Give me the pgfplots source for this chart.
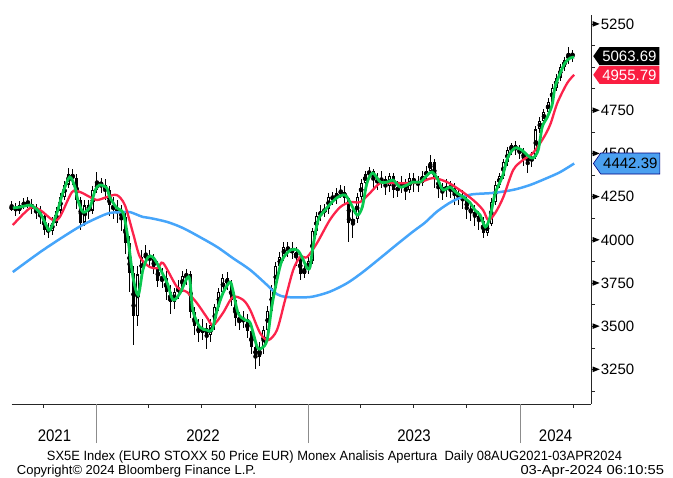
\documentclass[border=0pt]{standalone}
\usepackage{fontspec}
\setmainfont{Liberation Sans}
\usepackage{graphicx}
\usepackage{pgfplots}
\usepackage{pgfplotstable}
\pgfplotsset{compat=1.18}
\usetikzlibrary{shapes.symbols}
\definecolor{bbgreen}{RGB}{10,200,80}
\definecolor{bbred}{RGB}{252,35,75}
\definecolor{bbblue}{RGB}{70,165,250}
\definecolor{boxblue}{RGB}{75,160,240}
\definecolor{boxred}{RGB}{250,30,65}
\newcommand{\fs}[1]{\fontsize{#1}{#1}\selectfont}

\pgfplotstableread[row sep=\\]{
x o h l c\\
0 4180 4225 4165 4190\\ 7 4190 4215 4140 4170\\ 14 4170 4225 4150 4200\\ 21 4200 4240 4180 4215\\
28 4215 4250 4185 4210\\ 35 4210 4235 4150 4180\\ 42 4180 4210 4120 4175\\ 49 4175 4195 4090 4140\\
56 4140 4160 4030 4060\\ 63 4060 4100 4010 4050\\ 70 4050 4130 4030 4100\\ 77 4100 4190 4080 4170\\
84 4170 4270 4150 4250\\ 91 4250 4340 4230 4320\\ 98 4320 4415 4300 4380\\ 105 4380 4410 4320 4360\\
112 4360 4380 4180 4230\\ 119 4230 4250 4060 4100\\ 126 4100 4230 4080 4200\\ 133 4200 4230 4120 4170\\
140 4170 4310 4150 4290\\ 147 4290 4395 4270 4330\\ 154 4330 4360 4270 4320\\ 161 4320 4350 4230 4290\\
168 4290 4310 4140 4200\\ 175 4200 4250 4120 4180\\ 182 4180 4230 4100 4160\\ 189 4160 4200 4050 4130\\
196 4130 4170 3920 3980\\ 203 3980 4020 3700 3810\\ 210 3810 3850 3390 3560\\ 217 3560 3850 3500 3800\\
224 3800 3940 3760 3900\\ 231 3900 3970 3860 3910\\ 238 3910 3940 3840 3890\\ 245 3890 3920 3800 3840\\
252 3840 3880 3730 3760\\ 259 3760 3840 3720 3780\\ 266 3780 3820 3650 3700\\ 273 3700 3740 3570 3640\\
280 3640 3720 3600 3700\\ 287 3700 3770 3660 3720\\ 294 3720 3820 3700 3790\\ 301 3790 3830 3740 3800\\
308 3800 3820 3550 3580\\ 315 3580 3610 3450 3500\\ 322 3500 3540 3410 3460\\ 329 3460 3540 3420 3490\\
336 3490 3520 3370 3450\\ 343 3450 3540 3410 3510\\ 350 3510 3630 3480 3610\\ 357 3610 3720 3590 3700\\
364 3700 3800 3680 3780\\ 371 3780 3815 3710 3740\\ 378 3740 3770 3620 3650\\ 385 3650 3670 3500 3550\\
392 3550 3580 3480 3530\\ 399 3530 3590 3490 3540\\ 406 3540 3570 3430 3470\\ 413 3470 3500 3340 3380\\
420 3380 3400 3250 3320\\ 427 3320 3410 3270 3380\\ 434 3380 3500 3340 3480\\ 441 3480 3620 3450 3590\\
448 3590 3740 3570 3720\\ 455 3720 3870 3700 3850\\ 462 3850 3930 3820 3900\\ 469 3900 3990 3880 3960\\
476 3960 3990 3900 3940\\ 483 3940 3990 3890 3930\\ 490 3930 3960 3850 3900\\ 497 3900 3930 3770 3800\\
504 3800 3870 3780 3830\\ 511 3830 3900 3800 3880\\ 518 3880 4070 3860 4050\\ 525 4050 4160 4030 4140\\
532 4140 4200 4110 4160\\ 539 4160 4210 4130 4180\\ 546 4180 4270 4150 4250\\ 553 4250 4280 4200 4240\\
560 4240 4300 4210 4270\\ 567 4270 4320 4240 4280\\ 574 4280 4310 4200 4240\\ 581 4240 4250 3990 4100\\
588 4100 4180 4010 4120\\ 595 4120 4270 4100 4250\\ 602 4250 4350 4230 4330\\ 609 4330 4400 4310 4380\\
616 4380 4420 4350 4400\\ 623 4400 4410 4300 4350\\ 630 4350 4390 4290 4330\\ 637 4330 4400 4300 4350\\
644 4350 4370 4260 4310\\ 651 4310 4390 4280 4370\\ 658 4370 4390 4240 4290\\ 665 4290 4340 4250 4300\\
672 4300 4370 4270 4330\\ 679 4330 4350 4230 4290\\ 686 4290 4390 4270 4360\\ 693 4360 4390 4280 4330\\
700 4330 4370 4280 4330\\ 707 4330 4400 4310 4370\\ 714 4370 4430 4340 4400\\ 721 4400 4490 4380 4450\\
728 4450 4470 4300 4350\\ 735 4350 4370 4240 4300\\ 742 4300 4330 4230 4290\\ 749 4290 4350 4250 4310\\
756 4310 4340 4240 4300\\ 763 4300 4330 4200 4260\\ 770 4260 4300 4200 4250\\ 777 4250 4290 4180 4230\\
784 4230 4250 4120 4180\\ 791 4180 4220 4110 4160\\ 798 4160 4200 4080 4140\\ 805 4140 4170 4060 4110\\
812 4110 4130 4010 4040\\ 819 4040 4110 4020 4090\\ 826 4090 4240 4080 4220\\ 833 4220 4340 4200 4320\\
840 4320 4390 4300 4370\\ 847 4370 4470 4350 4450\\ 854 4450 4540 4430 4520\\ 861 4520 4560 4490 4550\\
868 4550 4570 4490 4520\\ 875 4520 4550 4470 4510\\ 882 4510 4530 4430 4470\\ 889 4470 4500 4390 4460\\
896 4460 4510 4420 4480\\ 903 4480 4660 4470 4640\\ 910 4640 4710 4620 4690\\ 917 4690 4760 4670 4740\\
924 4740 4820 4720 4800\\ 931 4800 4900 4780 4880\\ 938 4880 4960 4860 4940\\ 945 4940 5020 4920 5000\\
952 5000 5060 4980 5040\\ 959 5040 5120 5020 5080\\ 966 5080 5100 5030 5064\\
}\candles

\pgfplotsset{chartframe/.style={
  at={(11.5bp,74bp)}, anchor=south west,
  width=579.5bp, height=388.6bp, scale only axis,
  xmin=-0.26, xmax=998, ymin=3050, ymax=5300, clip=false}}

\begin{document}
\begin{tikzpicture}
\path[use as bounding box] (0,0) rectangle (673bp,478bp);
\begin{axis}[
  chartframe,
  axis x line*=bottom, axis y line*=right,
  axis line style={line width=0.8bp, black!85},
  tick align=outside,
  major tick length=4bp, minor tick length=4bp,
  tick style={black!85, line width=0.7bp},
  xtick={54,236,327,419,601,692,784,967},
  xticklabels={},
  extra x ticks={146,511,876},
  extra x tick labels={},
  extra x tick style={major tick length=39bp, tick style={draw=black!45, line width=0.7bp}},
  ytick={3250,3500,3750,4000,4250,4500,4750,5250},
  extra y ticks={5000},
  extra y tick labels={},
  minor ytick={3125,3375,...,5125},
  scaled y ticks=false,
  /pgf/number format/1000 sep={},
  /pgf/number format/assume math mode=true,
  yticklabel={\tikz[baseline={(0,-5.3bp)}]\fill[black] (0,-2.8bp)--(0,2.8bp)--(7bp,0)--cycle;\hspace{1.2bp}\pgfmathprintnumber{\tick}},
  yticklabel style={anchor=west, inner xsep=0pt, xshift=-2.5bp, font=\fs{15bp}},
]
% candle wicks
\addplot[only marks, mark=none, forget plot,
  error bars/.cd, y dir=both, y explicit, error mark=none,
  error bar style={draw=black, line width=1.0bp}]
  table[x=x, y expr={(\thisrow{h}+\thisrow{l})/2}, y error expr={(\thisrow{h}-\thisrow{l})/2}] {\candles};
% candle bodies
\addplot[only marks, mark=none, forget plot,
  error bars/.cd, y dir=both, y explicit, error mark=none,
  error bar style={draw=black, line width=3.0bp}]
  table[x=x, y expr={(\thisrow{o}+\thisrow{c})/2}, y error expr={max(abs(\thisrow{c}-\thisrow{o})/2,5)}] {\candles};
% hollow up candles
\addplot[only marks, mark=none, forget plot,
  error bars/.cd, y dir=both, y explicit, error mark=none,
  error bar style={draw=white, line width=1.0bp}]
  table[x=x, y expr={(\thisrow{o}+\thisrow{c})/2}, y error expr={max((\thisrow{c}-\thisrow{o})/2-7,0)}] {\candles};
\end{axis}
\begin{axis}[chartframe, hide axis]
% 200-day MA (blue)
\addplot[bbblue, line width=2.5bp, smooth, tension=0.5] coordinates {
(2,3814)(54,3941)(113,4069)(147,4127)(169,4156)(192,4161)(204,4161)(226,4133)(238,4127)(268,4104)(295,4069)(324,4017)(354,3959)(381,3895)(411,3826)(440,3739)(457,3686)(472,3670)(497,3667)(519,3672)(548,3700)(578,3750)(605,3814)(635,3895)(664,3975)(692,4050)(712,4100)(733,4165)(760,4225)(790,4262)(829,4272)(864,4290)(893,4318)(922,4358)(945,4393)(969,4442.39)};
% medium MA (red)
\addplot[bbred, line width=2.3bp, smooth, tension=0.5] coordinates {
(2,4086)(32,4185)(49,4173)(71,4115)(83,4133)(104,4277)(118,4277)(135,4248)(147,4231)(164,4248)(181,4260)(195,4202)(209,4040)(221,3901)(238,3843)(252,3837)(261,3866)(285,3727)(302,3698)(319,3635)(336,3553)(347,3507)(364,3577)(381,3669)(399,3652)(411,3594)(428,3461)(442,3420)(457,3478)(471,3652)(485,3826)(497,3901)(509,3901)(526,3982)(548,4115)(566,4190)(583,4219)(600,4219)(617,4271)(635,4329)(657,4329)(681,4329)(704,4335)(726,4358)(750,4335)(772,4289)(795,4231)(812,4173)(821,4115)(833,4156)(847,4248)(864,4405)(881,4463)(898,4503)(916,4590)(928,4670)(940,4793)(957,4908)(969,4955.79)};
% short MA (green)
\addplot[bbgreen, line width=2.8bp, smooth, tension=0.5] coordinates {
(2,4185)(14,4190)(32,4202)(40,4185)(49,4156)(61,4075)(66,4057)(78,4156)(88,4271)(100,4364)(109,4306)(114,4231)(123,4161)(135,4190)(144,4289)(152,4318)(164,4300)(169,4248)(181,4185)(192,4156)(200,4017)(209,3785)(218,3681)(226,3826)(235,3901)(243,3901)(252,3855)(268,3750)(278,3652)(290,3692)(302,3779)(307,3768)(312,3594)(324,3496)(336,3478)(345,3478)(354,3594)(364,3692)(376,3756)(381,3710)(390,3577)(402,3536)(411,3519)(423,3380)(431,3374)(440,3420)(448,3611)(457,3768)(466,3884)(480,3941)(492,3941)(500,3901)(509,3837)(514,3843)(519,3959)(528,4115)(540,4173)(552,4219)(562,4248)(574,4260)(583,4219)(595,4144)(604,4190)(612,4329)(622,4387)(635,4335)(647,4335)(657,4347)(669,4306)(681,4318)(691,4335)(704,4335)(716,4376)(724,4393)(733,4358)(743,4289)(755,4306)(767,4271)(778,4248)(790,4214)(798,4173)(807,4144)(816,4075)(824,4132)(833,4271)(845,4364)(855,4480)(867,4532)(879,4520)(888,4491)(898,4474)(907,4520)(914,4654)(922,4706)(931,4781)(936,4885)(945,4966)(953,5024)(962,5053)(969,5058)};
\coordinate (pk) at (axis cs:998,5063.69);
\coordinate (pr) at (axis cs:998,4955.79);
\coordinate (pb) at (axis cs:998,4442.39);
\end{axis}
\tikzset{pbox/.style={signal, signal to=west, signal pointer angle=110, anchor=west,
  inner xsep=2.5bp, inner ysep=0pt, minimum height=18bp, minimum width=66bp,
  text height=10.7bp, text depth=0pt, font=\fs{15bp}}}
\node[pbox, fill=black, text=white] at ([xshift=2bp]pk) {5063.69};
\node[pbox, fill=boxred, text=white] at ([xshift=2bp]pr) {4955.79};
\node[pbox, fill=boxblue, draw=blue!50!black, line width=0.6bp, text=black, minimum height=21bp] at ([xshift=2bp]pb) {4442.39};
% year labels
\node[anchor=base, inner sep=0pt, font=\fs{15bp}] at (54.5bp,37bp) {\scalebox{1}[1.12]{2021}};
\node[anchor=base, inner sep=0pt, font=\fs{15bp}] at (203bp,37bp) {\scalebox{1}[1.12]{2022}};
\node[anchor=base, inner sep=0pt, font=\fs{15bp}] at (414bp,37bp) {\scalebox{1}[1.12]{2023}};
\node[anchor=base, inner sep=0pt, font=\fs{15bp}] at (555.6bp,37bp) {\scalebox{1}[1.12]{2024}};
% footer
\node[anchor=base, inner sep=0pt, font=\fs{13.4bp}] at (334.5bp,17.7bp) {\resizebox{575bp}{\height}{SX5E Index (EURO STOXX 50 Price EUR) Monex Analisis Apertura\ \ Daily 08AUG2021-03APR2024}};
\node[anchor=base west, inner sep=0pt, font=\fs{13bp}] at (16.7bp,3.7bp) {Copyright© 2024 Bloomberg Finance L.P.};
\node[anchor=base east, inner sep=0pt, font=\fs{13bp}] at (664.3bp,3.7bp) {\resizebox{143.6bp}{\height}{03-Apr-2024 06:10:55}};
\end{tikzpicture}
\end{document}
